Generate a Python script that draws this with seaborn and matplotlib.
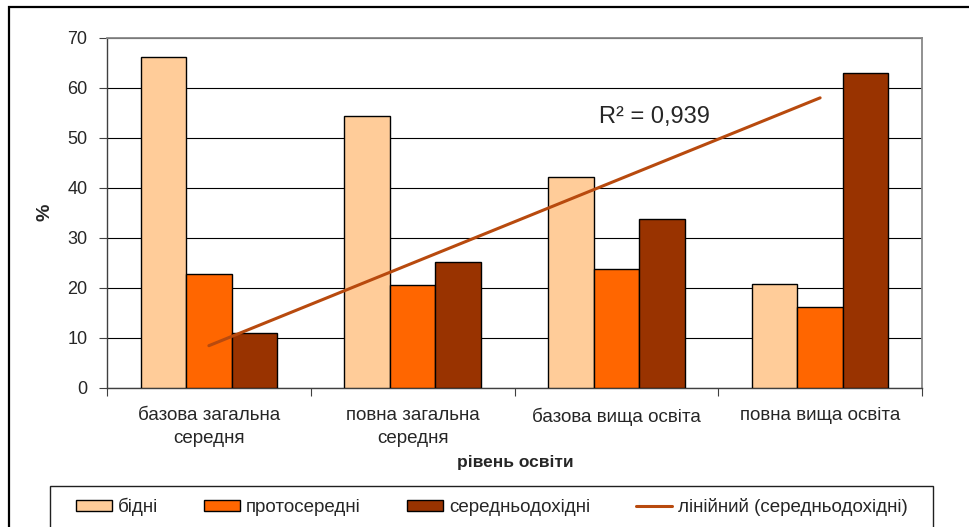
import numpy as np
import pandas as pd
import seaborn as sns
import matplotlib.pyplot as plt
from matplotlib.patches import Rectangle
from matplotlib.ticker import FixedLocator

sns.set_style("white")
plt.rcParams["font.family"] = ["Liberation Sans", "DejaVu Sans"]

categories = ["базова загальна\nсередня", "повна загальна\nсередня",
              "базова вища освіта", "повна вища освіта"]
series = ["бідні", "протосередні", "середньодохідні"]
poor = [66.1, 54.3, 42.2, 20.8]
proto = [22.8, 20.5, 23.7, 16.2]
middle = [10.9, 25.1, 33.8, 63.0]
colors = ["#FFCC99", "#FF6600", "#993300"]
trend_label = "лінійний (середньодохідні)"
r2_text = "R² = 0,939"

df = pd.DataFrame({
    "cat": categories * 3,
    "group": [s for s in series for _ in categories],
    "value": poor + proto + middle,
})

fig = plt.figure(figsize=(9.69, 5.27), dpi=100)
ax = fig.add_axes([107 / 969, 1 - 388 / 527, 815 / 969, 350.5 / 527])

sns.barplot(data=df, x="cat", y="value", hue="group", order=categories,
            hue_order=series, palette=dict(zip(series, colors)),
            width=0.67, gap=0, edgecolor="black", linewidth=1,
            saturation=1, ax=ax, zorder=3)

# linear trendline for the middle-income series
pos = np.arange(len(categories))
sns.regplot(x=pos, y=middle, scatter=False, ci=None, truncate=True, ax=ax,
            label=trend_label, line_kws={"color": "#B84A0E", "lw": 2.2, "zorder": 4})
ax.text(1.917, 52.9, r2_text, fontsize=17, ha="left", va="baseline", zorder=5)

ax.set_xlim(-0.5, 3.5)
ax.set_ylim(0, 70)
ax.set_yticks(range(0, 71, 10))
ax.grid(axis="y", color="black", lw=0.8, zorder=0)
ax.set_axisbelow(True)

ax.xaxis.set_minor_locator(FixedLocator([-0.5, 0.5, 1.5, 2.5, 3.5]))
ax.tick_params(axis="x", which="major", length=0, pad=14, labelsize=13.5)
ax.tick_params(axis="x", which="minor", length=6, width=0.8, direction="out", color="#404040")
ax.tick_params(axis="y", length=6, width=0.8, direction="out", pad=8, labelsize=13, color="#404040")
ax.tick_params(bottom=True, left=True, which="both")
for lbl in ax.get_xticklabels():
    lbl.set_linespacing(1.45)

for side in ["left", "bottom"]:
    ax.spines[side].set_color("#404040")
    ax.spines[side].set_linewidth(1)
for side in ["top", "right"]:
    ax.spines[side].set_color("#888888")
    ax.spines[side].set_linewidth(1.3)

ax.set_ylabel("%", fontsize=14, fontweight="bold")
ax.yaxis.set_label_coords(-0.066, 0.5)
ax.set_xlabel("рівень освіти", fontsize=12.5, fontweight="bold")
ax.xaxis.set_label_coords(0.5006, -0.19)

handles, labels = ax.get_legend_handles_labels()
if ax.get_legend() is not None:
    ax.get_legend().remove()
fig.legend(handles, labels, ncol=4, frameon=False, fontsize=13.5,
           loc="center left", bbox_to_anchor=(76 / 969, 1 - 507 / 527),
           borderpad=0, borderaxespad=0, handlelength=1.92, handleheight=0.58,
           handletextpad=0.32, columnspacing=2.45)

# legend box and outer chart frame
fig.patches.append(Rectangle((50 / 969, -0.1), 883 / 969, 0.1 + 1 - 486 / 527,
                             transform=fig.transFigure, fill=False, ec="#202020", lw=1))
fig.patches.append(Rectangle((9 / 969, -0.1), 1.2, 0.1 + 1 - 7 / 527,
                             transform=fig.transFigure, fill=False, ec="black", lw=1.6))

plt.savefig("out.png", dpi=100)
